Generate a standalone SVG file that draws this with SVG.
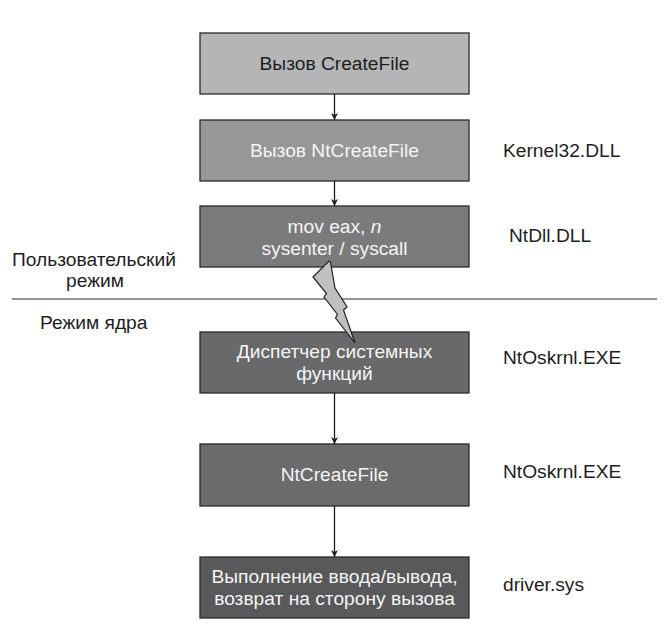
<svg xmlns="http://www.w3.org/2000/svg" width="665" height="632" viewBox="0 0 665 632">
<defs>
<style>
text{font-family:"Liberation Sans",Arial,sans-serif;font-size:19.2px;}
.box{stroke:#2a2a2a;stroke-width:1.3;}
.c{text-anchor:middle;}
.w{fill:#f4f4f4;}
.d{fill:#1e1e1e;}
.conn{stroke:#1e1e1e;stroke-width:1.3;fill:none;marker-end:url(#ah);}
</style>
<marker id="ah" viewBox="0 0 10 10" refX="10" refY="5" markerWidth="7" markerHeight="7" markerUnits="userSpaceOnUse" orient="auto">
<path d="M0,0 L10,5 L0,10 L3,5 Z" fill="#1e1e1e"/>
</marker>
</defs>
<rect width="665" height="632" fill="#ffffff"/>
<g id="n1"><rect class="box" x="200" y="33" width="269" height="61" fill="#b5b5b7"/><text class="c d" x="334.5" y="70">Вызов CreateFile</text></g>
<g id="n2"><rect class="box" x="200" y="120" width="269" height="61" fill="#979799"/><text class="c w" x="334.5" y="157">Вызов NtCreateFile</text></g>
<g id="n3"><rect class="box" x="200" y="206" width="269" height="61" fill="#7b7b7d"/><text class="c w" x="334.5" y="233">mov eax, <tspan font-style="italic">n</tspan></text><text class="c w" x="334.5" y="255">sysenter / syscall</text></g>
<g id="n4"><rect class="box" x="200" y="332" width="269" height="61" fill="#69696b"/><text class="c w" x="334.5" y="358">Диспетчер системных</text><text class="c w" x="334.5" y="380">функций</text></g>
<g id="n5"><rect class="box" x="200" y="444" width="269" height="62" fill="#6b6b6d"/><text class="c w" x="334.5" y="481">NtCreateFile</text></g>
<g id="n6"><rect class="box" x="200" y="557" width="269" height="61" fill="#59595b"/><text class="c w" x="334.5" y="583">Выполнение ввода/вывода,</text><text class="c w" x="334.5" y="605">возврат на сторону вызова</text></g>
<g id="labels">
<text class="d" x="503" y="157">Kernel32.DLL</text>
<text class="d" x="509" y="242">NtDll.DLL</text>
<text class="d" x="503" y="364">NtOskrnl.EXE</text>
<text class="d" x="503" y="478">NtOskrnl.EXE</text>
<text class="d" x="503" y="591">driver.sys</text>
<text class="d" x="12" y="266">Пользовательский</text>
<text class="d c" x="95" y="287">режим</text>
<text class="d" x="40" y="329">Режим ядра</text>
</g>
<line x1="12" y1="299" x2="657" y2="299" stroke="#2a2a2a" stroke-width="1.2"/>
<g id="connectors">
<line class="conn" x1="334.5" y1="94" x2="334.5" y2="120"/>
<line class="conn" x1="334.5" y1="181" x2="334.5" y2="206"/>
<line class="conn" x1="334.5" y1="393" x2="334.5" y2="444"/>
<line class="conn" x1="334.5" y1="506" x2="334.5" y2="557"/>
<polygon points="313,277 329,261 330.5,262 335,288 347,307 343.5,310 355,343 335.5,318 337.5,314.5 324,297 326.5,293.5" fill="#c0c0c2" stroke="#222" stroke-width="1.2" stroke-linejoin="miter"/>
</g>
</svg>
